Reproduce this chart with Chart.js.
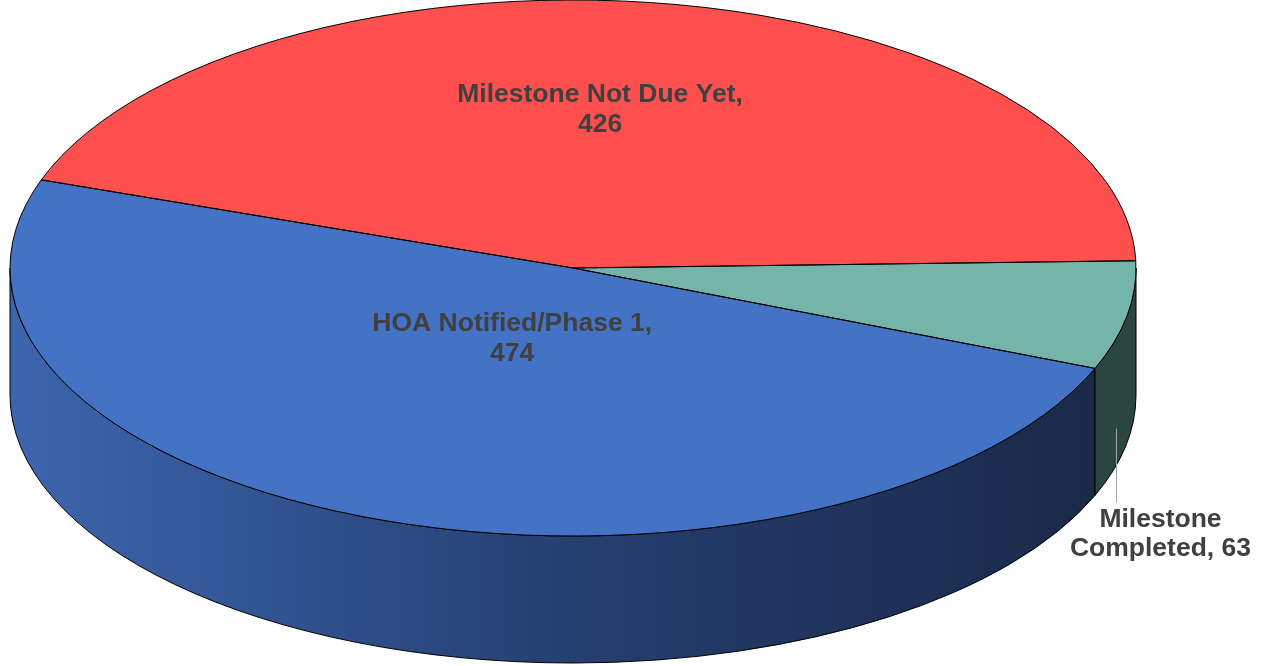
<!DOCTYPE html>
<html><head><meta charset="utf-8">
<script src="https://cdn.jsdelivr.net/npm/chart.js@4.4.0/dist/chart.umd.min.js"></script>
<style>html,body{margin:0;padding:0;background:#fff;overflow:hidden}#wrap{width:1261px;height:666px;position:relative}</style>
</head><body><div id="wrap"><canvas id="c"></canvas></div>
<script>
// ---- data ----
const categories = ['HOA Notified/Phase 1', 'Milestone Not Due Yet', 'Milestone Completed'];
const values = [474, 426, 63];
const labelLines = [['HOA Notified/Phase 1,', '474'], ['Milestone Not Due Yet,', '426'], ['Milestone', 'Completed, 63']];

// ---- styles ----
const topColors = ['#4472C4', '#FF5050', '#75B4AA'];
const sideLeft = ['#3D65AE', '#C03C3C', '#36574F'];
const sideMid = ['#253F70', '#A03030', '#304E48'];
const sideRight = ['#1A2746', '#802020', '#2A453F'];
const geom = {cx: 573, cy: 268, rx: 563, ry: 268, depth: 127};
const labelPos = [[-0.108, 0.255], [0.048, -0.60], null];
const FONT = "bold 26.5px 'Liberation Sans', Arial, sans-serif";

function applyT(ctx, arc) {
  const R = arc.outerRadius;
  ctx.translate(geom.cx, geom.cy);
  ctx.scale(geom.rx / R, geom.ry / R);
  ctx.translate(-arc.x, -arc.y);
}

const pie3d = {
  id: 'pie3d',
  beforeDatasetsDraw(chart) {
    const ctx = chart.ctx, g = geom;
    const meta = chart.getDatasetMeta(0);
    meta.data.forEach((arc, i) => {
      const s = arc.startAngle, e = arc.endAngle;
      for (let k = -2; k <= 2; k++) {
        const lo = Math.max(s, k * 2 * Math.PI), hi = Math.min(e, k * 2 * Math.PI + Math.PI);
        if (hi <= lo) continue;
        ctx.beginPath();
        ctx.ellipse(g.cx, g.cy, g.rx, g.ry, 0, lo, hi, false);
        ctx.ellipse(g.cx, g.cy + g.depth, g.rx, g.ry, 0, hi, lo, true);
        ctx.closePath();
        const grad = ctx.createLinearGradient(g.cx - g.rx, 0, g.cx + g.rx, 0);
        grad.addColorStop(0, sideLeft[i]);
        grad.addColorStop(0.5, sideMid[i]);
        grad.addColorStop(1, sideRight[i]);
        ctx.fillStyle = grad;
        ctx.fill();
        ctx.strokeStyle = '#000';
        ctx.lineWidth = 1;
        ctx.stroke();
      }
    });
    ctx.save();
    applyT(ctx, meta.data[0]);
  },
  afterDatasetsDraw(chart) {
    const ctx = chart.ctx, g = geom;
    ctx.restore();
    const meta = chart.getDatasetMeta(0);
    meta.data.forEach((arc) => {
      ctx.save();
      applyT(ctx, arc);
      ctx.beginPath();
      ctx.moveTo(arc.x, arc.y);
      ctx.arc(arc.x, arc.y, arc.outerRadius, arc.startAngle, arc.endAngle);
      ctx.closePath();
      ctx.restore();
      ctx.strokeStyle = '#000';
      ctx.lineWidth = 1;
      ctx.stroke();
    });
    ctx.save();
    ctx.font = FONT;
    ctx.fillStyle = '#404040';
    ctx.textAlign = 'center';
    ctx.textBaseline = 'alphabetic';
    meta.data.forEach((arc, i) => {
      const lines = labelLines[i];
      if (labelPos[i]) {
        const x = g.cx + labelPos[i][0] * g.rx, y = g.cy + labelPos[i][1] * g.ry;
        ctx.fillText(lines[0], x, y - 5.5);
        ctx.fillText(lines[1], x, y + 24.5);
      } else {
        const mid = (arc.startAngle + arc.endAngle) / 2;
        const rxp = g.cx + g.rx * Math.cos(mid), ryp = g.cy + g.ry * Math.sin(mid);
        const lx = Math.round(rxp - 11) + 0.5;
        const ly = g.cy + g.ry * 0.6;
        ctx.save();
        ctx.strokeStyle = '#A6A6A6';
        ctx.lineWidth = 1;
        ctx.beginPath();
        ctx.moveTo(lx, ly);
        ctx.lineTo(lx, ly + 74);
        ctx.stroke();
        ctx.restore();
        ctx.fillText(lines[0], lx + 44, ly + 98);
        ctx.fillText(lines[1], lx + 44, ly + 127);
      }
    });
    ctx.restore();
  }
};

new Chart(document.getElementById('c'), {
  type: 'pie',
  data: {
    labels: categories,
    datasets: [{
      data: values,
      backgroundColor: topColors,
      borderWidth: 0,
      hoverOffset: 0
    }]
  },
  options: {
    responsive: true,
    maintainAspectRatio: false,
    animation: false,
    rotation: 112,
    layout: {padding: 0},
    events: [],
    plugins: {legend: {display: false}, tooltip: {enabled: false}}
  },
  plugins: [pie3d]
});
</script>
</body></html>
